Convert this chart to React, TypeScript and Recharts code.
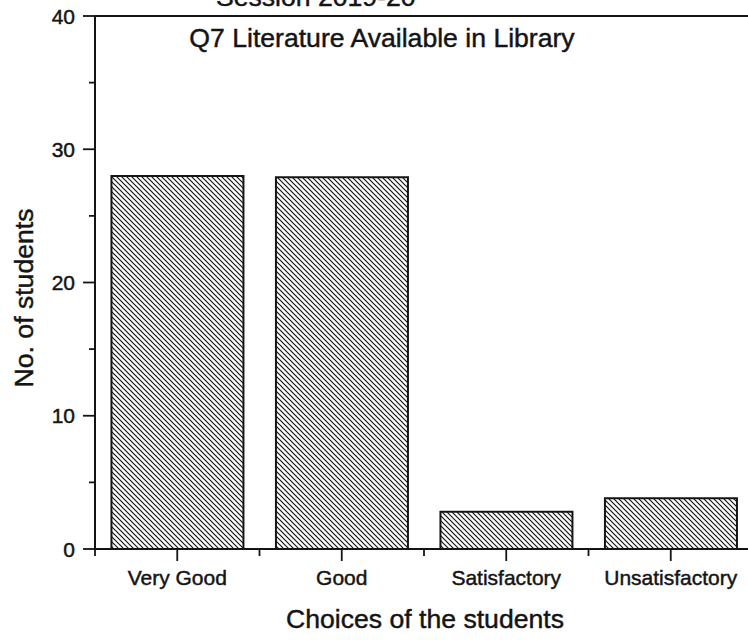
import React from "react";
import { BarChart, Bar, XAxis, YAxis, ReferenceLine } from "recharts";

const CATEGORIES = ["Very Good", "Good", "Satisfactory", "Unsatisfactory"];
const STUDENTS = [28, 27.9, 2.8, 3.8];
const Y_TICKS = [0, 5, 10, 15, 20, 25, 30, 35, 40];
const Y_LABELLED = [0, 10, 20, 30, 40];

const data = CATEGORIES.map((choice, i) => ({ choice, students: STUDENTS[i] }));

const W = 760;
const H = 640;
const MARGIN = { top: 16, right: 7, left: 0, bottom: 0 };
const Y_AXIS_W = 95;
const X_AXIS_H = 91;
const INK = "#141414";
const FONT = "Arial, 'Liberation Sans', Helvetica, sans-serif";
// a thin outline on the glyphs, the scan makes all text look a bit heavy
const HEAVY = { stroke: INK, strokeWidth: 0.45 };

function YTick(props: any) {
  const { x, y, payload } = props;
  const major = Y_LABELLED.includes(payload.value);
  return (
    <g>
      <line x1={x - (major ? 12 : 6)} x2={x} y1={y} y2={y} stroke={INK} strokeWidth={1.8} />
      {major && (
        <text x={x - 20} y={y} dy="0.36em" textAnchor="end" fontSize={21} fontFamily={FONT} fill={INK} {...HEAVY}>
          {payload.value}
        </text>
      )}
    </g>
  );
}

function XTick(props: any) {
  const { x, y, payload, index } = props;
  const half = payload.offset || (W - MARGIN.left - MARGIN.right - Y_AXIS_W) / CATEGORIES.length / 2;
  return (
    <g>
      <line x1={x} x2={x} y1={y} y2={y + 12} stroke={INK} strokeWidth={1.8} />
      <line x1={x - half} x2={x - half} y1={y} y2={y + 7} stroke={INK} strokeWidth={1.8} />
      {index === CATEGORIES.length - 1 && (
        <line x1={x + half} x2={x + half} y1={y} y2={y + 7} stroke={INK} strokeWidth={1.8} />
      )}
      <text x={x} y={y + 36} textAnchor="middle" fontSize={21} fontFamily={FONT} fill={INK} {...HEAVY}>
        {payload.value}
      </text>
    </g>
  );
}

export default function App() {
  return (
    <div style={{ position: "absolute", left: 0, top: 0, width: 748, height: 640, overflow: "hidden", background: "#fff" }}>
      <svg width={0} height={0} style={{ position: "absolute" }}>
        <defs>
          <pattern id="hatch" patternUnits="userSpaceOnUse" width={5} height={5}>
            <rect width={5} height={5} fill="#fff" />
            <path d="M-1,-1 L6,6 M-1,4 L1,6 M4,-1 L6,1" stroke={INK} strokeWidth={1.2} />
          </pattern>
        </defs>
      </svg>
      <BarChart width={W} height={H} data={data} margin={MARGIN} barCategoryGap="10%">
        <XAxis
          dataKey="choice"
          height={X_AXIS_H}
          tickSize={0}
          tickMargin={0}
          tick={<XTick />}
          interval={0}
          axisLine={{ stroke: INK, strokeWidth: 2 }}
        />
        <YAxis
          width={Y_AXIS_W}
          domain={[0, 40]}
          ticks={Y_TICKS}
          interval={0}
          tickSize={0}
          tickMargin={0}
          tick={<YTick />}
          axisLine={{ stroke: INK, strokeWidth: 2 }}
        />
        <ReferenceLine y={40} stroke={INK} strokeWidth={2} />
        <Bar dataKey="students" fill="url(#hatch)" stroke={INK} strokeWidth={2} isAnimationActive={false} />
      </BarChart>
      <svg width={748} height={640} style={{ position: "absolute", left: 0, top: 0, pointerEvents: "none" }}>
        <g fontFamily={FONT} fontSize={26.6} fill={INK} {...HEAVY}>
          <text x={216} y={6}>Session 2019-20</text>
          <text x={382} y={47} textAnchor="middle">Q7 Literature Available in Library</text>
          <text x={425} y={628} textAnchor="middle">Choices of the students</text>
          <text x={33} y={298} textAnchor="middle" transform="rotate(-90, 33, 298)">No. of students</text>
        </g>
      </svg>
    </div>
  );
}
